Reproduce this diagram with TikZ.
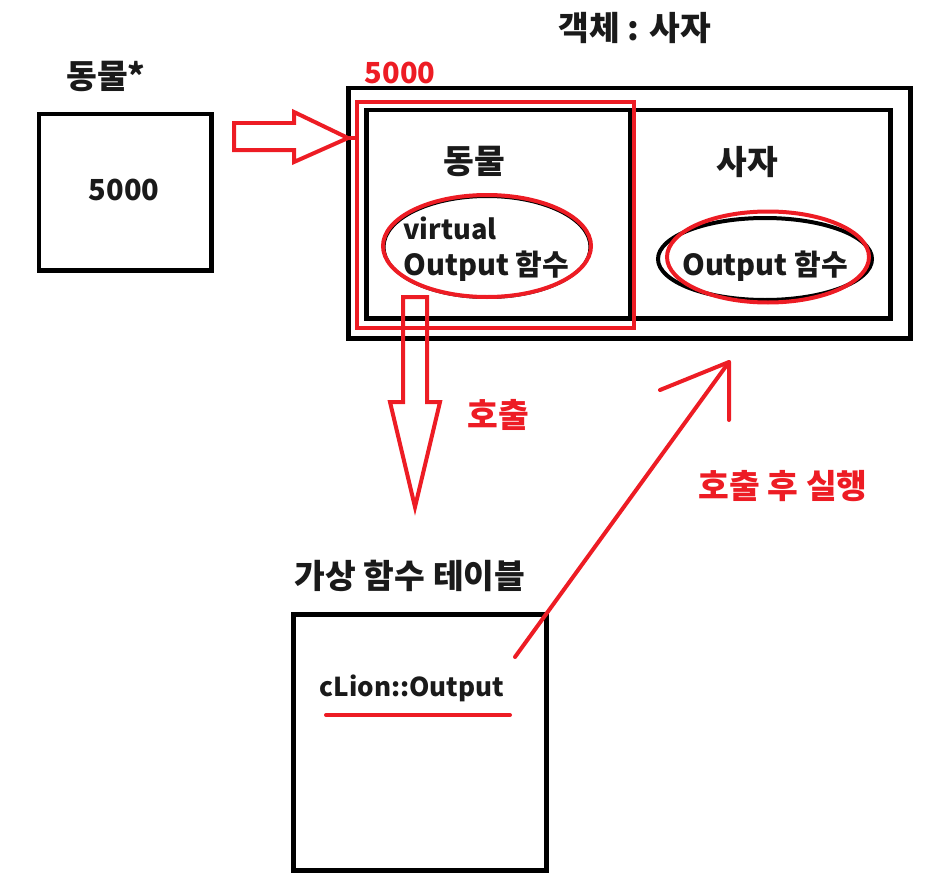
\documentclass[tikz,border=0pt]{standalone}
\usepackage{fontspec}
\setmainfont{Noto Sans CJK KR}
\usetikzlibrary{shapes.geometric}
\definecolor{pr}{HTML}{ED1C24}
\definecolor{ink}{HTML}{1A1A1A}
\begin{document}
\begin{tikzpicture}[x=0.02cm,y=-0.02cm,
  blk/.style={draw=black,line width=5*0.569pt},
  rd/.style={draw=pr,line width=4*0.569pt},
  txt/.style={inner sep=0pt,text=ink,font=\bfseries\fontsize{16.5pt}{19pt}\selectfont},
  ttl/.style={inner sep=0pt,text=ink,font=\bfseries\fontsize{19pt}{22pt}\selectfont},
  rtxt/.style={inner sep=0pt,text=pr,font=\bfseries\fontsize{16.5pt}{19pt}\selectfont},
  rkr/.style={inner sep=0pt,text=pr,font=\bfseries\fontsize{19pt}{22pt}\selectfont},
  boxn/.style={blk,rectangle,inner sep=0pt},
  ell/.style={ellipse,inner sep=0pt}
]
\useasboundingbox (0,0) rectangle (929,892);
% titles
\node[ttl] (objt) at (635,28) {객체 : 사자};
\node[ttl] (ptrt) at (106,76) {동물*};
\node[ttl] (vtt) at (410,576) {가상 함수 테이블};
% pointer box
\node[boxn,minimum width=172*0.02cm,minimum height=156*0.02cm] (ptr) at (125,192) {};
\node[txt] (ptrv) at (124,190) {5000};
% object boxes
\node[boxn,minimum width=562*0.02cm,minimum height=250*0.02cm] (outer) at (629,213) {};
\node[boxn,minimum width=524*0.02cm,minimum height=208*0.02cm] (inner) at (628,214) {};
\coordinate (divt) at (630,110);
\coordinate (divb) at (630,318);
\draw[blk] (divt) -- (divb);
\node[rd,rectangle,inner sep=0pt,minimum width=277*0.02cm,minimum height=226*0.02cm] (base) at (495.5,215) {};
\node[rtxt] (addr) at (400,73) {5000};
\node[ttl] (animal) at (474,161) {동물};
\node[ttl] (lion) at (747,162) {사자};
% ellipses
\node[ell,draw=black,line width=3*0.569pt,minimum width=206*0.02cm,minimum height=101*0.02cm] (e1b) at (487,247) {};
\node[ell,rd,minimum width=208*0.02cm,minimum height=102*0.02cm] (e1) at (487,246) {};
\node[ell,draw=black,line width=4*0.569pt,minimum width=214*0.02cm,minimum height=82*0.02cm] (e2b) at (765,259) {};
\node[ell,rd,minimum width=202*0.02cm,minimum height=91*0.02cm] (e2) at (768,257) {};
\node[txt,anchor=west,font=\bfseries\fontsize{15.5pt}{19pt}\selectfont] (virt) at (403,228) {virtual};
\node[txt,anchor=west] (vout) at (403,266) {Output 함수};
\node[txt] (lout) at (765,266) {Output 함수};
% table
\node[boxn,minimum width=253*0.02cm,minimum height=256*0.02cm] (table) at (419.5,742) {};
\node[txt,font=\bfseries\fontsize{14.8pt}{19pt}\selectfont] (entry) at (412,688) {cLion::Output};
\coordinate (ul1) at (326,715);
\coordinate (ul2) at (510,715);
\draw[rd,line cap=round] (ul1) -- (ul2);
% right block arrow
\draw[rd,line join=miter] (234,123) -- (294,123) -- (294,112) -- (348,138) -- (294,162) -- (294,150) -- (234,150) -- cycle;
\coordinate (rtip) at (348,138);
\draw[rd] (rtip) -- (base.west |- rtip);
% down block arrow
\draw[rd,line join=miter] (403,297) -- (427,297) -- (427,402) -- (440,402) -- (415,507) -- (390,402) -- (403,402) -- cycle;
\node[rkr] (call) at (498,415) {호출};
% diagonal arrow
\coordinate (dstart) at (515,657);
\coordinate (dtip) at (729,362);
\coordinate (dh1) at (660,390);
\coordinate (dh2) at (729,420);
\draw[rd,line cap=round,line join=round] (dstart) -- (dtip);
\draw[rd,line cap=round,line join=round] (dh1) -- (dtip) -- (dh2);
\node[rkr] (exec) at (783,486) {호출 후 실행};
\end{tikzpicture}
\end{document}
